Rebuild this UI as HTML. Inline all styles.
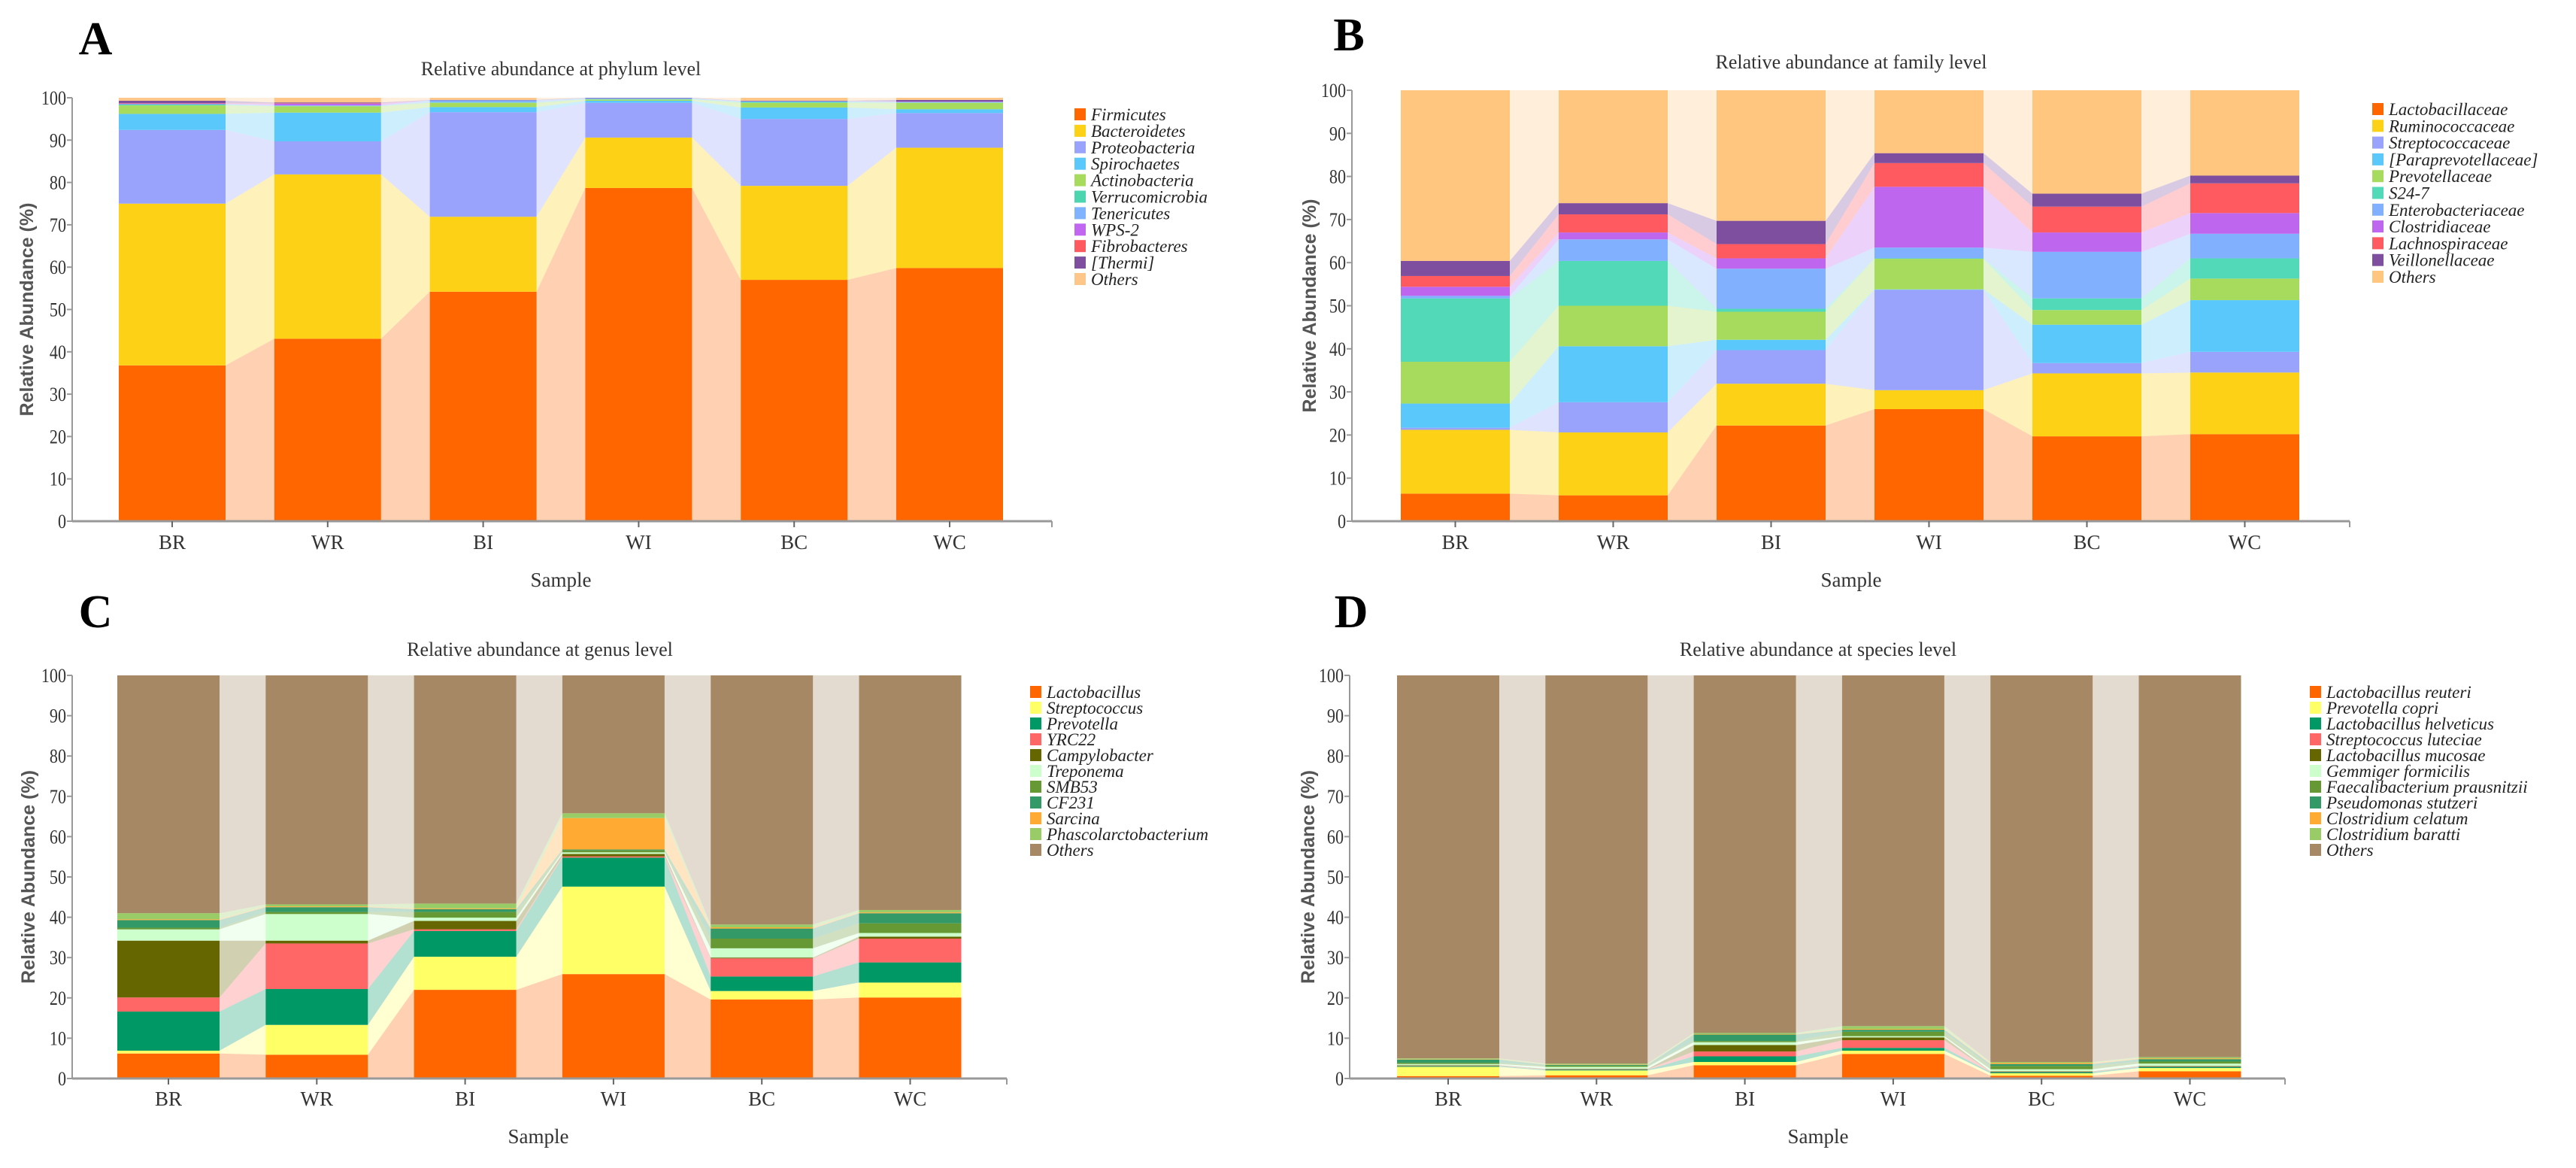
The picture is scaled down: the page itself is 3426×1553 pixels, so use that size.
<!DOCTYPE html>
<html><head><meta charset="utf-8"><style>
html,body{margin:0;padding:0;background:#fff;}
svg{display:block;}
</style></head><body>
<svg id="fig" xmlns="http://www.w3.org/2000/svg" width="3426" height="1553" viewBox="0 0 3426 1553"></svg>
<script>
const samples = ["BR","WR","BI","WI","BC","WC"];
const yTicks = [0,10,20,30,40,50,60,70,80,90,100];

// Panel A (phylum)
const phylumNames = ["Firmicutes","Bacteroidetes","Proteobacteria","Spirochaetes","Actinobacteria","Verrucomicrobia","Tenericutes","WPS-2","Fibrobacteres","[Thermi]","Others"];
const phylumColors = ["#FF6600","#FCD116","#99A3FB","#5AC8FA","#A6DB5E","#4CD6B0","#7FB3FF","#C066F0","#FF5A5F","#7E4F9E","#FFC68A"];
const phylumFirmicutes = [36.8,43.1,54.2,78.7,57.0,59.8];
const phylumBacteroidetes = [38.2,38.8,17.7,11.9,22.2,28.4];
const phylumProteobacteria = [17.4,7.8,24.7,8.2,15.8,8.2];
const phylumSpirochaetes = [3.8,6.8,1.2,0.5,2.7,0.9];
const phylumActinobacteria = [2.0,1.5,1.0,0.3,1.1,1.5];
const phylumVerrucomicrobia = [0.2,0.1,0.1,0.1,0.2,0.1];
const phylumTenericutes = [0.1,0.1,0.5,0.2,0.2,0.1];
const phylumWPS2 = [0.1,0.4,0,0,0,0.1];
const phylumFibrobacteres = [0.1,0.1,0,0,0,0];
const phylumThermi = [0.6,0.2,0.1,0.1,0.1,0.4];

// Panel B (family)
const familyNames = ["Lactobacillaceae","Ruminococcaceae","Streptococcaceae","[Paraprevotellaceae]","Prevotellaceae","S24-7","Enterobacteriaceae","Clostridiaceae","Lachnospiraceae","Veillonellaceae","Others"];
const familyColors = ["#FF6600","#FCD116","#99A3FB","#5AC8FA","#A6DB5E","#52D9B8","#80B0FF","#BF66EE","#FF5A5F","#7E4F9E","#FFC680"];
const familyLacto = [6.4,6.0,22.2,26.0,19.7,20.2];
const familyRumino = [14.8,14.6,9.7,4.4,14.6,14.3];
const familyStrepto = [0.5,7.0,7.8,23.3,2.4,4.8];
const familyParapre = [5.6,13.0,2.4,0.1,8.9,12.0];
const familyPrevo = [9.7,9.4,6.5,7.1,3.4,5.0];
const familyS247 = [14.7,10.4,0.7,0.1,2.7,4.7];
const familyEntero = [0.6,5.0,9.3,2.5,10.8,5.7];
const familyClostri = [2.1,1.6,2.4,14.1,4.5,4.8];
const familyLachno = [2.5,4.2,3.3,5.5,6.0,6.9];
const familyVeillo = [3.5,2.6,5.4,2.3,3.0,1.8];

// Panel C (genus)
const genusNames = ["Lactobacillus","Streptococcus","Prevotella","YRC22","Campylobacter","Treponema","SMB53","CF231","Sarcina","Phascolarctobacterium","Others"];
const genusColors = ["#FF6600","#FFFF66","#009966","#FF6666","#666600","#CCFFCC","#669933","#339966","#FFAA33","#99CC66","#A68864"];
const genusLacto = [6.2,5.9,22.0,25.9,19.6,20.1];
const genusStrepto = [0.7,7.4,8.2,21.7,2.1,3.7];
const genusPrevo = [9.7,8.9,6.4,7.2,3.6,5.0];
const genusYRC22 = [3.5,11.3,0.4,0.3,4.5,5.9];
const genusCampylo = [14.1,0.7,2.1,0.6,0.2,0.5];
const genusTrepo = [2.8,6.6,0.8,0.4,2.3,0.9];
const genusSMB53 = [0.4,0.5,1.4,0.5,2.4,2.4];
const genusCF231 = [1.9,1.2,0.7,0.2,2.5,2.5];
const genusSarcina = [0.2,0.2,0.2,7.8,0.3,0.2];
const genusPhasco = [1.5,0.5,1.2,1.2,0.7,0.6];

// Panel D (species)
const speciesNames = ["Lactobacillus reuteri","Prevotella copri","Lactobacillus helveticus","Streptococcus luteciae","Lactobacillus mucosae","Gemmiger formicilis","Faecalibacterium prausnitzii","Pseudomonas stutzeri","Clostridium celatum","Clostridium baratti","Others"];
const speciesColors = genusColors;
const speciesReuteri = [0.6,0.8,3.3,6.1,0.7,1.8];
const speciesCopri = [2.3,1.2,0.8,0.8,0.6,0.8];
const speciesHelveticus = [0.2,0.2,1.4,0.7,0.3,0.3];
const speciesLuteciae = [0.1,0.1,1.2,1.9,0.1,0.1];
const speciesMucosae = [0.1,0.1,1.6,0.7,0.1,0.1];
const speciesGemmiger = [0.3,0.5,0.7,0.3,0.5,0.6];
const speciesFaecali = [0.3,0.3,0.3,1.1,0.8,0.5];
const speciesStutzeri = [0.8,0.2,1.6,0.5,0.5,0.6];
const speciesCelatum = [0.1,0.1,0.1,0.2,0.3,0.2];
const speciesBaratti = [0.2,0.2,0.3,0.7,0.2,0.3];

function withOthers(series){
  const others = samples.map((_,i)=>Math.max(0,100-series.reduce((s,a)=>s+a[i],0)));
  return series.concat([others]);
}

const panels = [
  {key:"a", letter:"A", title:"Relative abundance at phylum level",
   series: withOthers([phylumFirmicutes,phylumBacteroidetes,phylumProteobacteria,phylumSpirochaetes,phylumActinobacteria,phylumVerrucomicrobia,phylumTenericutes,phylumWPS2,phylumFibrobacteres,phylumThermi]),
   names: phylumNames, colors: phylumColors,
   ax:96, axEnd:1399, y0:693, y100:130, c0:229, sp:206.8, bw:142,
   lx:1429, ly:152, lsp:21.9, tx:746, ty:100, lX:127, lY:72, xl:730, sx:746, sy:780, yt:36},
  {key:"b", letter:"B", title:"Relative abundance at family level",
   series: withOthers([familyLacto,familyRumino,familyStrepto,familyParapre,familyPrevo,familyS247,familyEntero,familyClostri,familyLachno,familyVeillo]),
   names: familyNames, colors: familyColors,
   ax:1798, axEnd:3125, y0:693, y100:120, c0:1935.5, sp:210, bw:145,
   lx:3155, ly:145, lsp:22.3, tx:2462, ty:91, lX:1794, lY:67, xl:730, sx:2462, sy:780, yt:1742},
  {key:"c", letter:"C", title:"Relative abundance at genus level",
   series: withOthers([genusLacto,genusStrepto,genusPrevo,genusYRC22,genusCampylo,genusTrepo,genusSMB53,genusCF231,genusSarcina,genusPhasco]),
   names: genusNames, colors: genusColors,
   ax:96, axEnd:1339, y0:1434, y100:898, c0:224, sp:197.3, bw:136,
   lx:1370, ly:920, lsp:21, tx:718, ty:872, lX:127, lY:834, xl:1470, sx:716, sy:1520, yt:38},
  {key:"d", letter:"D", title:"Relative abundance at species level",
   series: withOthers([speciesReuteri,speciesCopri,speciesHelveticus,speciesLuteciae,speciesMucosae,speciesGemmiger,speciesFaecali,speciesStutzeri,speciesCelatum,speciesBaratti]),
   names: speciesNames, colors: speciesColors,
   ax:1795, axEnd:3039, y0:1434, y100:898, c0:1926, sp:197.3, bw:136,
   lx:3072, ly:920, lsp:21, tx:2418, ty:872, lX:1797, lY:834, xl:1470, sx:2418, sy:1520, yt:1740}
];

const NS = "http://www.w3.org/2000/svg";
const svg = document.getElementById("fig");
function mk(tag, attrs, parent){
  const e = document.createElementNS(NS, tag);
  for (const k in attrs) e.setAttribute(k, attrs[k]);
  (parent||svg).appendChild(e);
  return e;
}

panels.forEach(p=>{
  const g = mk("g",{});
  
  
  const yS = v => p.y0 - (p.y0 - p.y100) * v / 100;
  const xC = i => p.c0 + i * p.sp;

  const cum = [];
  p.series.forEach((s,k)=>{
    cum.push(samples.map((_,i)=> (k? cum[k-1][i] : 0) + s[i]));
  });

  p.series.forEach((s,k)=>{
    for (let i=0;i<samples.length-1;i++){
      const x1 = xC(i)+p.bw/2, x2 = xC(i+1)-p.bw/2;
      const b1 = k? cum[k-1][i]:0, t1 = cum[k][i];
      const b2 = k? cum[k-1][i+1]:0, t2 = cum[k][i+1];
      const poly = mk("polygon",{points:`${x1},${yS(b1)} ${x1},${yS(t1)} ${x2},${yS(t2)} ${x2},${yS(b2)}`, fill:p.colors[k], "fill-opacity":0.3}, g);
      
      
    }
  });
  p.series.forEach((s,k)=>{
    samples.forEach((smp,i)=>{
      const b = k? cum[k-1][i]:0, t = cum[k][i];
      if (t-b <= 0) return;
      const r = mk("rect",{x:xC(i)-p.bw/2, y:yS(t), width:p.bw, height:yS(b)-yS(t), fill:p.colors[k]}, g);
      
      
    });
  });

  const ya = mk("line",{x1:p.ax, y1:p.y100, x2:p.ax, y2:p.y0, stroke:"#999", "stroke-width":2}, g);
  
  
  const xa = mk("line",{x1:p.ax, y1:p.y0, x2:p.axEnd, y2:p.y0, stroke:"#999", "stroke-width":3}, g);
  
  
  mk("line",{x1:p.axEnd, y1:p.y0, x2:p.axEnd, y2:p.y0+8, stroke:"#999", "stroke-width":2}, g);
  yTicks.forEach(v=>{
    mk("line",{x1:p.ax-7, y1:yS(v), x2:p.ax, y2:yS(v), stroke:"#999", "stroke-width":2}, g);
    const t = mk("text",{x:p.ax-8, y:yS(v)+9, "text-anchor":"end", "font-family":"Liberation Serif, serif", "font-size":26, fill:"#333", transform:`translate(${p.ax-8},0) scale(0.85,1) translate(${-(p.ax-8)},0)`}, g);
    t.textContent = v;
    
    
  });
  samples.forEach((smp,i)=>{
    mk("line",{x1:xC(i), y1:p.y0, x2:xC(i), y2:p.y0+8, stroke:"#666", "stroke-width":2}, g);
    const t = mk("text",{x:xC(i), y:p.xl, "text-anchor":"middle", "font-family":"Liberation Serif, serif", "font-size":27, fill:"#333"}, g);
    t.textContent = smp;
    
    
  });
  const st = mk("text",{x:p.sx, y:p.sy, "text-anchor":"middle", "font-family":"Liberation Serif, serif", "font-size":27, fill:"#333"}, g);
  st.textContent = "Sample";
  
  
  const ymid = (p.y0+p.y100)/2;
  const yt = mk("text",{x:p.yt, y:ymid, "text-anchor":"middle", "font-family":"Liberation Sans, sans-serif", "font-size":25, "font-weight":"bold", fill:"#555", transform:`rotate(-90 ${p.yt} ${ymid})`, dy:8}, g);
  yt.textContent = "Relative Abundance (%)";
  
  
  const tt = mk("text",{x:p.tx, y:p.ty, "text-anchor":"middle", "font-family":"Liberation Serif, serif", "font-size":26, fill:"#333"}, g);
  tt.textContent = p.title;
  
  
  const lt = mk("text",{x:p.lX, y:p.lY, "text-anchor":"middle", "font-family":"Liberation Serif, serif", "font-size":62, "font-weight":"bold", fill:"#000"}, g);
  lt.textContent = p.letter;
  
  

  p.names.forEach((n,k)=>{
    const y = p.ly + k*p.lsp;
    const r = mk("rect",{x:p.lx, y:y-8, width:15, height:16, fill:p.colors[k]}, g);
    
    
    const t = mk("text",{x:p.lx+22, y:y+8, "font-family":"Liberation Serif, serif", "font-style":"italic", "font-size":23, fill:"#222"}, g);
    t.textContent = n;
    
    
  });
});
</script>
</body></html>
